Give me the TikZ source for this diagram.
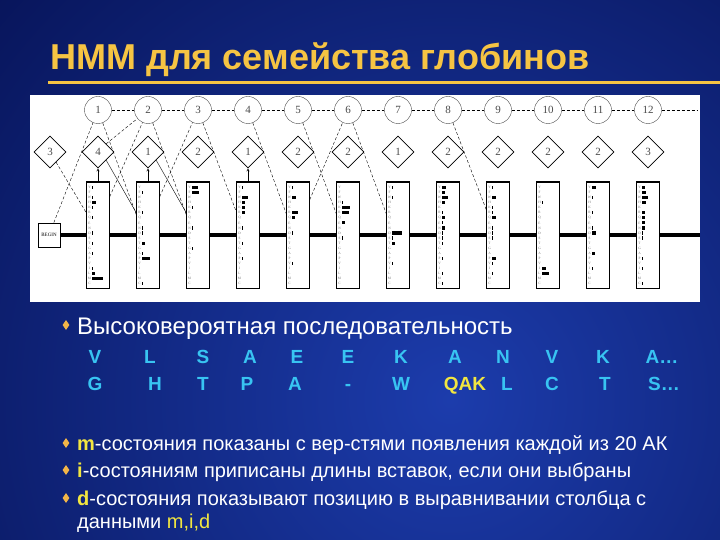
\documentclass[tikz,border=0pt]{standalone}
\usepackage{fontspec}
\setmainfont{Liberation Sans}
\newfontfamily\figfont{Liberation Serif}
\usepackage{tikz}
\usetikzlibrary{arrows, positioning, shapes.geometric}

\definecolor{titleyellow}{HTML}{F6C443}
\definecolor{markyellow}{HTML}{F2E640}
\definecolor{bulletorange}{HTML}{F2B548}
\definecolor{seqcyan}{HTML}{38C4F2}
\definecolor{bgdark}{HTML}{020A44}
\definecolor{bglight}{HTML}{1C3CAC}
\definecolor{stategray}{HTML}{4A4A4A}

\begin{document}
\begin{tikzpicture}[x=1pt,y=-1pt,
  delstate/.style={circle, draw=stategray, thin, minimum size=27, inner sep=0, text=stategray, font=\figfont\fontsize{11}{11}\selectfont},
  insstate/.style={diamond, draw=black, semithick, minimum width=32, minimum height=32, inner sep=0, text=stategray, font=\figfont\fontsize{11}{11}\selectfont},
  matstate/.style={rectangle, draw=black, thin, fill=white, minimum width=23, minimum height=106, inner sep=0},
  trans/.style={thin, dash pattern=on 3pt off 2pt},
  inmove/.style={thin},
  aaletter/.style={text=black!55, inner sep=0, font=\figfont\fontsize{3.4}{3.4}\selectfont},
  bullet/.style={diamond, fill=bulletorange, minimum width=7, minimum height=10, inner sep=0},
  bodytext/.style={anchor=base west, inner sep=0, text=white, font=\fontsize{20}{24}\selectfont},
  seqletter/.style={anchor=base, inner sep=0, text=seqcyan, font=\bfseries\fontsize{19}{21}\selectfont}]
\useasboundingbox (0,0) rectangle (720,540);
\fill[bgdark] (0,0) rectangle (720,540);
\begin{scope}
\clip (0,0) rectangle (720,540);
\shade[inner color=bglight, outer color=bgdark] (450,400) circle (780);
\end{scope}

% title
\node[anchor=base west, inner sep=0, text=titleyellow, font=\bfseries\fontsize{36}{42}\selectfont] (title) at (50,70) {НММ для семейства глобинов};
\draw[titleyellow, line width=3] (48,83) -- (720,83);

% the model
\fill[white] (30,95) rectangle (700,302);
\node[draw, thick, fill=white, minimum width=22, minimum height=24, inner sep=0, font=\figfont\fontsize{5}{5}\selectfont] (begin) at (49,235) {BEGIN};
\coordinate (bbend) at (700,235);
\draw[line width=4.5] (begin) -- (bbend);
\node[insstate] (i0) at (50,152) {3};
\foreach \k/\n in {1/4,2/1,3/2,4/1,5/2,6/2,7/1,8/2,9/2,10/2,11/2,12/3} {
  \node[delstate] (d\k) at (48+50*\k,110) {\k};
  \node[insstate] (i\k) at (48+50*\k,152) {\n};
  \node[matstate] (m\k) at (48+50*\k,235) {};
  \draw[line width=1.3] (m\k.north west) -- (m\k.north east) -- (m\k.south east);
  \foreach \a [count=\r] in {Y,F,W,H,K,R,Q,E,N,D,S,T,G,A,P,V,I,L,M,C}
    \node[aaletter] (aa\k-\r) at (39.5+50*\k,182.5+5.05*\r) {\a};
}
% emission bars
\foreach \k/\bars in {1/{1/1,3/1,4/3,5/1,7/1,10/1,12/1,14/1,17/1,18/2,19/8},
    2/{2/1,6/1,9/1,10/1,12/2,14/1,15/6,20/1},
    3/{1/4,2/5,5/1,9/1,13/1},
    4/{1/1,3/4,4/2,5/2,6/2,9/1,12/1,15/1},
    5/{1/1,3/3,6/4,7/2,10/1,16/1},
    6/{4/1,5/6,6/5,8/2,11/1},
    7/{1/1,3/1,10/7,11/1,12/2,16/1},
    8/{1/3,2/2,3/4,4/2,6/1,7/2,8/1,9/2,10/1,11/1,12/1,15/1,18/1,20/1},
    9/{1/1,3/3,5/1,6/1,7/3,9/1,10/1,11/1,15/3,16/1,18/1},
    10/{4/1,17/3,18/5},
    11/{1/3,3/1,6/1,9/1,10/3,14/2,17/1},
    12/{1/2,2/3,3/4,4/3,6/2,7/2,8/2,9/2,10/1,11/1,15/1,17/1,20/1}}
  \foreach \r/\len in \bars
    \fill (42+50*\k,180.9+5.05*\r) rectangle ++(1.4*\len,3.2);
\foreach \k in {1,2,4}
  \draw[->, >=stealth] (m\k) -- (i\k);
\foreach \k [remember=\k as \prev (initially 1)] in {2,...,12}
  \draw[trans] (d\prev) -- (d\k);
\coordinate (dend) at (698,110);
\draw[trans] (d12) -- (dend);
\path[trans] (begin) edge (d1)
  (i0) edge ([yshift=-31]m1.north west)
  (d1) edge ([yshift=-33]m2.north west)
  ([yshift=-15]m1.north east) edge (d2)
  (i1.north east) edge (d2)
  (d2) edge ([yshift=-33]m3.north west)
  ([yshift=-15]m2.north east) edge (d3)
  (d3) edge ([yshift=-30]m4.north west)
  (d4) edge ([yshift=-32]m5.north west)
  (d5) edge ([yshift=-32]m6.north west)
  ([yshift=-18]m5.north east) edge (d6)
  (d6) edge ([yshift=-32]m7.north west)
  (d8) edge ([yshift=-28]m9.north west);
\path[inmove] (i1.south east) edge ([yshift=-31]m2.north west)
  (i2.south east) edge ([yshift=-31]m3.north west);

% text below
\node[bullet] (b0) at (66,325) {};
\node[bodytext, font=\fontsize{24}{28}\selectfont] (seqhead) at (77,334) {Высоковероятная последовательность};
\foreach \x/\t [count=\n] in {95/V,150/L,203/S,250/A,297/E,348/E,401/K,455/A,503/N,552/V,603/K,662/A…}
  \node[seqletter] (up\n) at (\x,363) {\t};
\foreach \x/\t [count=\n] in {95/G,155/H,203/T,247/P,295/A,348/-,401/W,507/L,552/C,605/T,664/S…}
  \node[seqletter] (lo\n) at (\x,390) {\t};
\node[seqletter, text=markyellow] (qak) at (465,390) {QAK};

\node[bullet] (b1) at (66,443) {};
\node[bodytext] (mline) at (77,450) {\textcolor{markyellow}{\bfseries m}-состояния показаны с вер-стями появления каждой из 20 АК};
\node[bullet] (b2) at (66,470) {};
\node[bodytext] (iline) at (77,477) {\textcolor{markyellow}{\bfseries i}-состояниям приписаны длины вставок, если они выбраны};
\node[bullet] (b3) at (66,498) {};
\node[bodytext] (dline) at (77,505) {\textcolor{markyellow}{\bfseries d}-состояния показывают позицию в выравнивании столбца с};
\node[bodytext] (dline2) at (77,528) {данными \textcolor{markyellow}{m,i,d}};
\end{tikzpicture}
\end{document}
